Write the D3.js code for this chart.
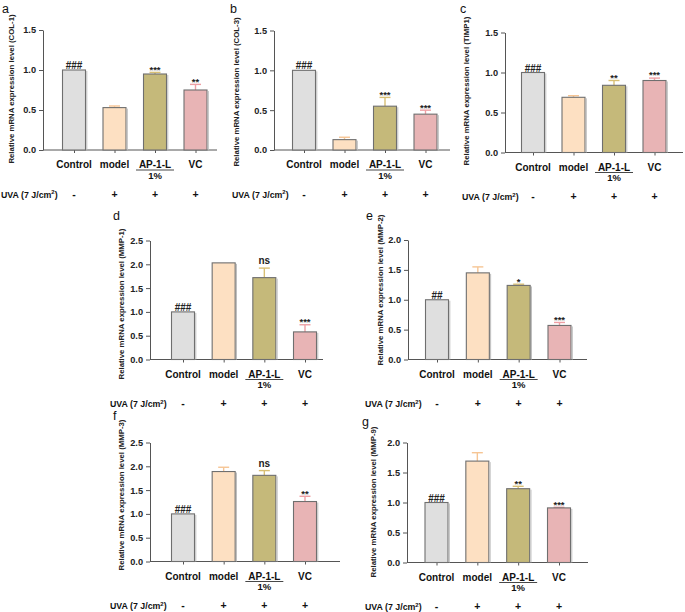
<!DOCTYPE html>
<html><head><meta charset="utf-8">
<script src="https://cdn.jsdelivr.net/npm/d3@7"></script>
<style>
html,body{margin:0;padding:0;background:#fff;}
svg{display:block;font-family:"Liberation Sans",Arial,sans-serif;}
</style></head>
<body>
<svg id="chart" width="685" height="612"></svg>
<script>
// ---------------- data ----------------
const categories = ["Control", "model", "AP-1-L", "VC"];
const subLabels = ["", "", "1%", ""];
const uvaSigns = ["-", "+", "+", "+"];
const panelIds = ["a", "b", "c", "d", "e", "f", "g"];
const genes = ["COL-1", "COL-3", "TIMP1", "MMP-1", "MMP-2", "MMP-3", "MMP-9"];
const yMaxes = [1.5, 1.5, 1.5, 2.5, 2.0, 2.5, 2.0];
const tickStep = 0.5;

const meanA = [1.00, 0.53, 0.95, 0.75];
const errA  = [0.00, 0.02, 0.02, 0.07];
const sigA  = ["###", "", "***", "**"];

const meanB = [1.00, 0.13, 0.55, 0.45];
const errB  = [0.00, 0.03, 0.11, 0.05];
const sigB  = ["###", "", "***", "***"];

const meanC = [1.00, 0.69, 0.84, 0.90];
const errC  = [0.00, 0.02, 0.06, 0.03];
const sigC  = ["###", "", "**", "***"];

const meanD = [1.00, 2.03, 1.72, 0.58];
const errD  = [0.00, 0.00, 0.20, 0.15];
const sigD  = ["###", "", "ns", "***"];

const meanE = [1.00, 1.45, 1.24, 0.57];
const errE  = [0.00, 0.10, 0.02, 0.05];
const sigE  = ["##", "", "*", "***"];

const meanF = [1.00, 1.89, 1.81, 1.26];
const errF  = [0.00, 0.09, 0.10, 0.11];
const sigF  = ["###", "", "ns", "**"];

const meanG = [1.00, 1.69, 1.23, 0.91];
const errG  = [0.00, 0.14, 0.04, 0.01];
const sigG  = ["###", "", "**", "***"];

const means = [meanA, meanB, meanC, meanD, meanE, meanF, meanG];
const errs  = [errA, errB, errC, errD, errE, errF, errG];
const sigs  = [sigA, sigB, sigC, sigD, sigE, sigF, sigG];

// ---------------- styles / layout ----------------
const fills = ["#dfdfdf", "#fde0c2", "#c5b97a", "#e8b4b5"];
const errColors = ["#999999", "#f6c594", "#d8bf74", "#ee9fa4"];
const axisColor = "#555";

// x0: y-axis x, x1: x-axis end, y0: zero line, yTop: top tick pixel
const layout = [
  {x0: 43,  x1: 217, y0: 150,   yTop: 30,    c0: 74,  c1: 195.5, labX: 14,  labY: 89,  uvaX: 1,   letX: 2,   letY: 13},
  {x0: 274, x1: 450, y0: 150,   yTop: 30.5,  c0: 304, c1: 425.5, labX: 239, labY: 92,  uvaX: 232, letX: 230, letY: 13},
  {x0: 505, x1: 683, y0: 152.5, yTop: 32.5,  c0: 533, c1: 654.5, labX: 469, labY: 91,  uvaX: 462, letX: 460, letY: 13},
  {x0: 150, x1: 323, y0: 359.5, yTop: 240.5, c0: 183, c1: 305,   labX: 124, labY: 304, uvaX: 110, letX: 113, letY: 220},
  {x0: 408, x1: 587, y0: 359.5, yTop: 240,   c0: 437, c1: 559.5, labX: 383, labY: 290, uvaX: 365, letX: 366, letY: 220},
  {x0: 150, x1: 340, y0: 561.5, yTop: 442.5, c0: 183, c1: 305,   labX: 124, labY: 495, uvaX: 110, letX: 113, letY: 420},
  {x0: 407, x1: 588, y0: 562.5, yTop: 442.5, c0: 436.5, c1: 559, labX: 376, labY: 502, uvaX: 365, letX: 362, letY: 426}
];

const barW = 23;
const svg = d3.select("#chart");

panelIds.forEach((pid, i) => {
  const L = layout[i];
  const g = svg.append("g");
  const yMax = yMaxes[i];
  const y = d3.scaleLinear().domain([0, yMax]).range([L.y0, L.yTop]);
  const x = d3.scalePoint().domain(categories).range([L.c0, L.c1]);
  const ticks = d3.range(0, yMax + 1e-9, tickStep);

  // panel letter
  g.append("text").attr("x", L.letX).attr("y", L.letY)
    .attr("font-size", 12.5).attr("fill", "#111").text(pid);

  // y axis
  const ya = g.append("g").attr("transform", `translate(${L.x0},0)`)
    .call(d3.axisLeft(y).tickValues(ticks).tickSize(4).tickSizeOuter(0).tickPadding(3)
      .tickFormat(d3.format(".1f")));
  ya.select(".domain").attr("stroke", axisColor).attr("stroke-width", 1);
  ya.selectAll(".tick line").attr("stroke", axisColor);
  ya.selectAll(".tick text").attr("font-size", 9.2).attr("font-weight", "bold")
    .attr("fill", "#222").attr("font-family", "Liberation Sans, Arial, sans-serif");

  // x axis
  const xa = g.append("g").attr("transform", `translate(0,${L.y0})`)
    .call(d3.axisBottom(x).tickSize(3).tickSizeOuter(0).tickFormat(""));
  xa.select(".domain").attr("d", `M${L.x0},0H${L.x1}`).attr("stroke", axisColor);
  xa.selectAll(".tick line").attr("stroke", axisColor);

  // y label
  g.append("text")
    .attr("transform", `translate(${L.labX},${L.labY}) rotate(-90)`)
    .attr("text-anchor", "middle").attr("font-size", 7.8).attr("font-weight", "bold")
    .attr("fill", "#222")
    .text(`Relative mRNA expression level (${genes[i]})`);

  const data = categories.map((c, k) => ({c, k, m: means[i][k], e: errs[i][k], s: sigs[i][k]}));

  // error bars (upper only)
  const eb = g.selectAll(".eb").data(data.filter(d => d.e > 0)).enter().append("g");
  eb.append("line")
    .attr("x1", d => x(d.c)).attr("x2", d => x(d.c))
    .attr("y1", d => y(d.m)).attr("y2", d => y(d.m + d.e))
    .attr("stroke", d => errColors[d.k]).attr("stroke-width", 1.4);
  eb.append("line")
    .attr("x1", d => x(d.c) - 5.5).attr("x2", d => x(d.c) + 5.5)
    .attr("y1", d => y(d.m + d.e)).attr("y2", d => y(d.m + d.e))
    .attr("stroke", d => errColors[d.k]).attr("stroke-width", 1.4);

  // bars
  const bars = g.selectAll(".bar").data(data).enter();
  bars.append("rect")
    .attr("x", d => x(d.c) - barW / 2).attr("width", barW)
    .attr("y", d => y(d.m)).attr("height", d => L.y0 - y(d.m))
    .attr("fill", d => fills[d.k]).attr("stroke", "#6f6f6f").attr("stroke-width", 1.1);
  // light right-edge shading seen on the reference bars
  bars.append("line")
    .attr("x1", d => x(d.c) + barW / 2 + 1.3).attr("x2", d => x(d.c) + barW / 2 + 1.3)
    .attr("y1", d => y(d.m) + 1).attr("y2", L.y0)
    .attr("stroke", "#bdbdbd").attr("stroke-width", 1);

  // significance labels
  g.selectAll(".sig").data(data.filter(d => d.s)).enter().append("text")
    .attr("x", d => x(d.c)).attr("y", d => y(d.m + d.e) - (d.s === "ns" ? 4 : 2))
    .attr("text-anchor", "middle")
    .attr("font-size", d => d.s === "ns" ? 10 : (d.s[0] === "#" ? 10 : 9.5))
    .attr("font-weight", "bold").attr("fill", "#222")
    .attr("dy", d => d.s[0] === "*" ? "0.25em" : (d.s[0] === "#" ? "0.1em" : 0))
    .text(d => d.s);

  // category labels
  g.selectAll(".cat").data(data).enter().append("text")
    .attr("x", d => x(d.c)).attr("y", L.y0 + 18)
    .attr("text-anchor", "middle").attr("font-size", 10).attr("font-weight", "bold")
    .attr("fill", "#111").text(d => d.c);
  g.selectAll(".sub").data(data.filter(d => subLabels[d.k])).enter().append("text")
    .attr("x", d => x(d.c)).attr("y", L.y0 + 28.5)
    .attr("text-anchor", "middle").attr("font-size", 9.5).attr("font-weight", "bold")
    .attr("fill", "#111").text(d => subLabels[d.k]);
  g.selectAll(".ul").data(data.filter(d => subLabels[d.k])).enter().append("line")
    .attr("x1", d => x(d.c) - 19).attr("x2", d => x(d.c) + 19)
    .attr("y1", L.y0 + 20).attr("y2", L.y0 + 20)
    .attr("stroke", "#333").attr("stroke-width", 0.9);

  // UVA row
  const uva = g.append("text").attr("x", L.uvaX).attr("y", L.y0 + 47.5)
    .attr("font-size", 8.8).attr("font-weight", "bold").attr("fill", "#111");
  uva.append("tspan").text("UVA (7 J/cm");
  uva.append("tspan").attr("font-size", 6).attr("dy", -3.5).text("2");
  uva.append("tspan").attr("dy", 3.5).text(")");
  g.selectAll(".sign").data(data).enter().append("text")
    .attr("x", d => x(d.c)).attr("y", L.y0 + 47.5)
    .attr("text-anchor", "middle").attr("font-size", 10.5).attr("font-weight", "bold")
    .attr("fill", "#111").text(d => uvaSigns[d.k]);
});
</script>
</body></html>
